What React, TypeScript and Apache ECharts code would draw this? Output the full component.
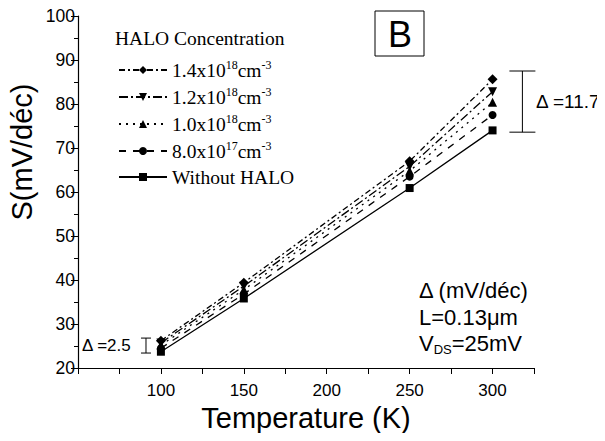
import React, { useEffect, useRef } from "react";
import * as echarts from "echarts";

const temperatures = [100, 150, 250, 300];
const seriesNames = ["1.4x10^18", "1.2x10^18", "1.0x10^18", "8.0x10^17", "Without HALO"];
const s14e18 = [26.2, 39.4, 67.0, 85.6];
const s12e18 = [25.7, 38.6, 65.8, 82.8];
const s10e18 = [25.2, 37.8, 64.8, 80.4];
const s80e17 = [24.5, 36.8, 63.5, 77.5];
const sNoHalo = [23.7, 35.8, 60.9, 74.0];
const xTicks = [100, 150, 200, 250, 300];
const yTicks = [20, 30, 40, 50, 60, 70, 80, 90, 100];
// error-bar annotations: [x, yLow, yHigh]
const deltaBars = [
  [318, 73.6, 87.5],
  [91, 23.4, 26.8],
];

const SANS = "Liberation Sans, Arial, sans-serif";
const SERIF = "Liberation Serif, Times New Roman, serif";

export default function App() {
  const ref = useRef<HTMLDivElement>(null);
  useEffect(() => {
    if (!ref.current) return;
    const chart = echarts.init(ref.current, null, { renderer: "svg" });
    const styles = [
      { symbol: "diamond", rotate: 0, type: [6, 3, 2, 3] as any, size: 10 },
      { symbol: "triangle", rotate: 180, type: [9, 3, 2, 3] as any, size: 9 },
      { symbol: "triangle", rotate: 0, type: [2, 5] as any, size: 9 },
      { symbol: "circle", rotate: 0, type: [7, 7] as any, size: 8 },
      { symbol: "rect", rotate: 0, type: "solid" as any, size: 8 },
    ];
    const values = [s14e18, s12e18, s10e18, s80e17, sNoHalo];
    const lineSeries = values.map((v, i) => ({
      name: seriesNames[i],
      type: "line",
      data: temperatures.map((t, k) => [t, v[k]]),
      symbol: styles[i].symbol,
      symbolRotate: styles[i].rotate,
      symbolSize: styles[i].size,
      showAllSymbol: true,
      itemStyle: { color: "#000" },
      lineStyle: { color: "#000", width: 1.3, type: styles[i].type },
      z: 10 - i,
    }));
    const capHalf = [13, 5];
    const bracketSeries = {
      type: "custom",
      name: "bracket",
      data: deltaBars.map((d, i) => [d[0], d[1], d[2], i]),
      renderItem: (params: any, api: any) => {
        const x = api.value(0);
        const lo = api.coord([x, api.value(1)]);
        const hi = api.coord([x, api.value(2)]);
        const c = capHalf[api.value(3)];
        const st = { stroke: "#000", lineWidth: 1 };
        return {
          type: "group",
          children: [
            { type: "line", shape: { x1: lo[0], y1: lo[1], x2: hi[0], y2: hi[1] }, style: st },
            { type: "line", shape: { x1: lo[0] - c, y1: lo[1], x2: lo[0] + c, y2: lo[1] }, style: st },
            { type: "line", shape: { x1: hi[0] - c, y1: hi[1], x2: hi[0] + c, y2: hi[1] }, style: st },
          ],
        };
      },
      silent: true,
      z: 5,
    };
    const option: any = {
      animation: false,
      backgroundColor: "#fff",
      grid: { left: 78, right: 71, top: 16, bottom: 73 },
      xAxis: {
        type: "value",
        min: 50,
        max: 325,
        interval: 25,
        name: "Temperature (K)",
        nameLocation: "middle",
        nameGap: 34,
        nameTextStyle: { fontFamily: SANS, fontSize: 29, color: "#000" },
        axisLine: { lineStyle: { color: "#000", width: 1.2 } },
        axisTick: { show: true, length: 6, inside: false, lineStyle: { color: "#000" } },
        axisLabel: {
          fontFamily: SANS,
          fontSize: 17,
          color: "#000",
          margin: 14,
          formatter: (v: number) => (xTicks.includes(v) ? String(v) : ""),
        },
        splitLine: { show: false },
      },
      yAxis: {
        type: "value",
        min: 20,
        max: 100,
        interval: 10,
        axisLine: { show: true, lineStyle: { color: "#000", width: 1.2 } },
        axisTick: { show: true, length: 7, lineStyle: { color: "#000" } },
        minorTick: { show: true, splitNumber: 2, length: 4, lineStyle: { color: "#000" } },
        axisLabel: {
          fontFamily: SANS,
          fontSize: 17.5,
          color: "#000",
          margin: 3,
          formatter: (v: number) => (yTicks.includes(v) ? String(v) : ""),
        },
        splitLine: { show: false },
      },
      legend: {
        orient: "vertical",
        left: 113,
        top: 54,
        itemWidth: 48,
        itemHeight: 10,
        itemGap: 6,
        data: seriesNames,
        textStyle: {
          fontFamily: SERIF,
          fontSize: 19.5,
          color: "#000",
          rich: {
            b: { fontFamily: SERIF, fontSize: 19.5, color: "#000" },
            sup: { fontFamily: SERIF, fontSize: 12, color: "#000", verticalAlign: "bottom", padding: [0, 0, 10, 0] },
          },
        },
        formatter: (name: string) => {
          if (name === "Without HALO") return "{b|Without HALO}";
          const [base, exp] = name.split("^");
          return "{b|" + base + "}{sup|" + exp + "}{b|cm}{sup|-3}";
        },
      },
      graphic: [
        { type: "text", x: 22, y: 152, rotation: Math.PI / 2, style: { text: "S(mV/déc)", font: "29px " + SANS, fill: "#000", align: "center", verticalAlign: "middle" } },
        { type: "text", x: 115, y: 38, style: { text: "HALO Concentration", font: "19.5px " + SERIF, fill: "#000", verticalAlign: "middle" } },
        { type: "rect", shape: { x: 375, y: 11, width: 49, height: 45 }, style: { fill: "#fff", stroke: "#000", lineWidth: 1 } },
        { type: "text", x: 400, y: 34, style: { text: "B", font: "36px " + SANS, fill: "#000", align: "center", verticalAlign: "middle" } },
        { type: "text", x: 536, y: 101, style: { text: "Δ =11.7", font: "19px " + SANS, fill: "#000", verticalAlign: "middle" } },
        { type: "text", x: 82, y: 345, style: { text: "Δ =2.5", font: "17px " + SANS, fill: "#000", verticalAlign: "middle" } },
        { type: "text", x: 419, y: 290, style: { text: "Δ (mV/déc)", font: "22px " + SANS, fill: "#000", verticalAlign: "middle" } },
        { type: "text", x: 419, y: 317, style: { text: "L=0.13μm", font: "22px " + SANS, fill: "#000", verticalAlign: "middle" } },
        {
          type: "text",
          x: 419,
          y: 343,
          style: {
            text: "{a|V}{s|DS}{a|=25mV}",
            fill: "#000",
            verticalAlign: "middle",
            rich: {
              a: { font: "22px " + SANS, fill: "#000" },
              s: { font: "13px " + SANS, fill: "#000", verticalAlign: "top", padding: [12, 0, 0, 0] },
            },
          },
        },
      ],
      series: [...lineSeries, bracketSeries],
    };
    chart.setOption(option);
    return () => chart.dispose();
  }, []);
  return <div ref={ref} style={{ width: 605, height: 441, margin: -8 }} />;
}
